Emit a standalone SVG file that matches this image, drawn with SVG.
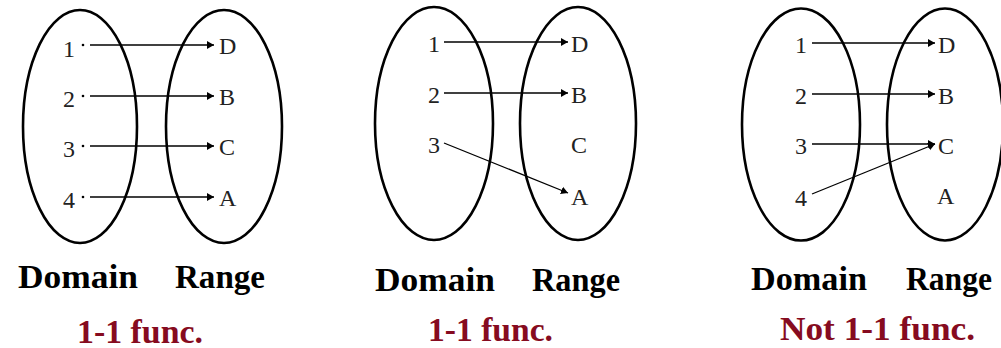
<svg xmlns="http://www.w3.org/2000/svg" width="1001" height="348" viewBox="0 0 1001 348">
<style>
.set{fill:none;stroke:#000;stroke-width:2.6}
text{font-family:'Liberation Serif','Times New Roman',serif}
.el{font-size:24px;fill:#222}
.cap{font-size:33px;font-weight:700;fill:#000}
.fn{font-size:34px;font-weight:700;fill:#860b20}
.ln{fill:none;stroke:#000;stroke-width:1.3;marker-end:url(#ah)}
</style>
<defs>
<marker id="ah" markerUnits="userSpaceOnUse" markerWidth="8" markerHeight="9" refX="7" refY="4.5" orient="auto">
<path d="M0,0.5 L7,4.5 L0,8.5 z" fill="#000"/>
</marker>
</defs>
<rect width="1001" height="348" fill="#fff"/>

<!-- Panel 1 -->
<g id="p1-domain">
<ellipse class="set" cx="80" cy="126.5" rx="57" ry="116.5"/>
<text class="el" x="69" y="57" text-anchor="middle">1</text>
<text class="el" x="69" y="107" text-anchor="middle">2</text>
<text class="el" x="69" y="157" text-anchor="middle">3</text>
<text class="el" x="69" y="208" text-anchor="middle">4</text>
<circle cx="83" cy="45" r="1.3"/>
<circle cx="83" cy="96" r="1.3"/>
<circle cx="83" cy="146" r="1.3"/>
<circle cx="83" cy="197" r="1.3"/>
</g>
<g id="p1-range">
<ellipse class="set" cx="224" cy="126.5" rx="58" ry="116.5"/>
<text class="el" x="219" y="54">D</text>
<text class="el" x="219" y="105">B</text>
<text class="el" x="219" y="155">C</text>
<text class="el" x="219" y="206">A</text>
</g>
<g id="p1-labels">
<text class="cap" x="18" y="288" textLength="120" lengthAdjust="spacingAndGlyphs">Domain</text>
<text class="cap" x="175" y="288" textLength="90" lengthAdjust="spacingAndGlyphs">Range</text>
<text class="fn" x="77" y="343" textLength="126" lengthAdjust="spacingAndGlyphs">1-1 func.</text>
</g>

<!-- Panel 2 -->
<g id="p2-domain">
<ellipse class="set" cx="434" cy="123.5" rx="59" ry="116.5"/>
<text class="el" x="434" y="52" text-anchor="middle">1</text>
<text class="el" x="434" y="103" text-anchor="middle">2</text>
<text class="el" x="434" y="153" text-anchor="middle">3</text>
</g>
<g id="p2-range">
<ellipse class="set" cx="578" cy="123.5" rx="58" ry="116.5"/>
<text class="el" x="571" y="52">D</text>
<text class="el" x="571" y="103">B</text>
<text class="el" x="571" y="153">C</text>
<text class="el" x="571" y="205">A</text>
</g>
<g id="p2-labels">
<text class="cap" x="375" y="291" textLength="120" lengthAdjust="spacingAndGlyphs">Domain</text>
<text class="cap" x="532" y="291" textLength="88" lengthAdjust="spacingAndGlyphs">Range</text>
<text class="fn" x="428" y="341" textLength="125" lengthAdjust="spacingAndGlyphs">1-1 func.</text>
</g>

<!-- Panel 3 -->
<g id="p3-domain">
<ellipse class="set" cx="801" cy="124.5" rx="59" ry="116"/>
<text class="el" x="801" y="53" text-anchor="middle">1</text>
<text class="el" x="801" y="104" text-anchor="middle">2</text>
<text class="el" x="801" y="154" text-anchor="middle">3</text>
<text class="el" x="801" y="206" text-anchor="middle">4</text>
</g>
<g id="p3-range">
<ellipse class="set" cx="945" cy="124.5" rx="58" ry="116"/>
<text class="el" x="938" y="53">D</text>
<text class="el" x="938" y="104">B</text>
<text class="el" x="938" y="154">C</text>
<text class="el" x="937" y="204">A</text>
</g>
<g id="p3-labels">
<text class="cap" x="751" y="290" textLength="116" lengthAdjust="spacingAndGlyphs">Domain</text>
<text class="cap" x="906" y="290" textLength="86" lengthAdjust="spacingAndGlyphs">Range</text>
<text class="fn" x="780" y="340" textLength="195" lengthAdjust="spacingAndGlyphs">Not 1-1 func.</text>
</g>

<g id="connectors">
<line class="ln" x1="90" y1="45" x2="214" y2="45"/>
<line class="ln" x1="90" y1="96" x2="214" y2="96"/>
<line class="ln" x1="90" y1="146" x2="214" y2="146"/>
<line class="ln" x1="90" y1="197" x2="214" y2="197"/>

<line class="ln" x1="444" y1="42" x2="568" y2="42"/>
<line class="ln" x1="444" y1="93" x2="568" y2="93"/>
<line class="ln" x1="444" y1="143" x2="568" y2="193"/>

<line class="ln" x1="812" y1="43" x2="935" y2="43"/>
<line class="ln" x1="812" y1="94" x2="935" y2="94"/>
<line class="ln" x1="812" y1="144" x2="935" y2="144"/>
<line class="ln" x1="812" y1="194" x2="935" y2="144"/>
</g>
</svg>
